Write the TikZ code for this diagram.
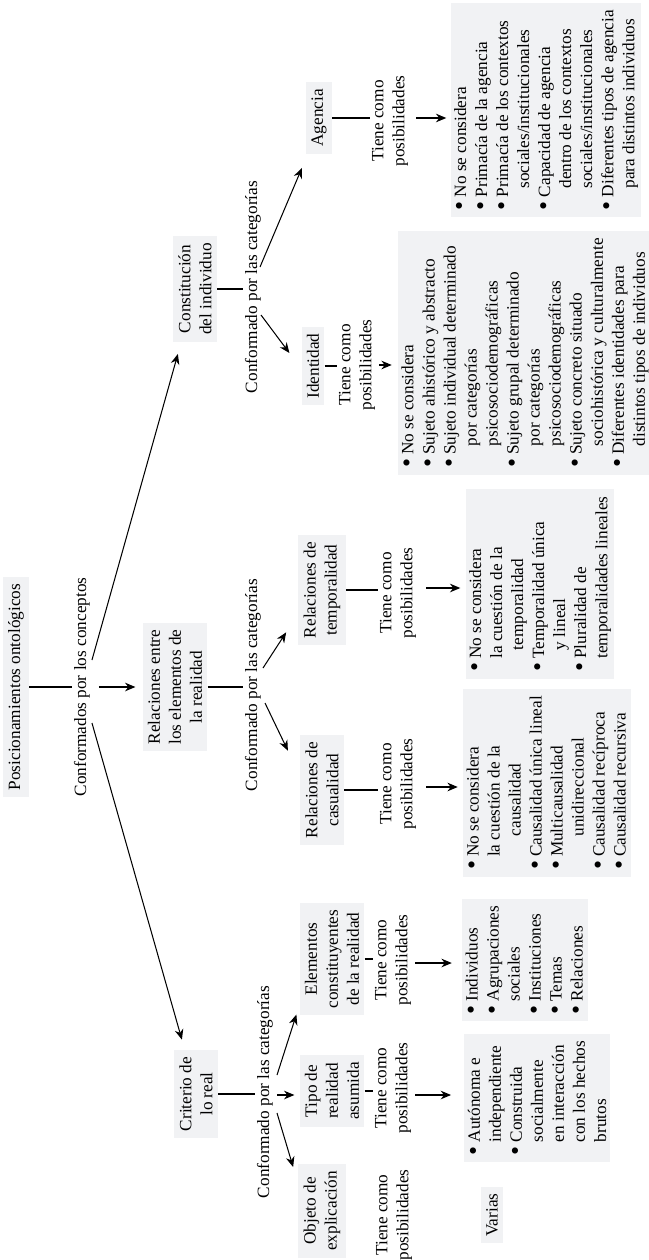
\documentclass[tikz,border=0pt]{standalone}
\usepackage{fontspec}
\setmainfont{Liberation Serif}
\usetikzlibrary{calc,arrows.meta}
\definecolor{boxgray}{RGB}{241,242,244}
\newcommand{\bi}{\makebox[0.75em][l]{\raisebox{-0.1em}{\fontsize{15}{12}\selectfont\textbullet}}}
\newcommand{\cn}{\hspace*{1.25em}}
\newcommand{\cw}{\hspace*{1.95em}}
\newcommand{\cs}{\hspace*{0.75em}}
\begin{document}
\begin{tikzpicture}[x=0.58pt,y=-0.58pt,
  every node/.style={rotate=90, font=\fontsize{10}{12.2}\selectfont},
  cbox/.style={fill=boxgray, align=center, inner xsep=4pt, inner ysep=3pt},
  lbox/.style={fill=boxgray, align=left, inner xsep=4pt, inner ysep=2pt},
  lbl/.style={align=center, inner sep=1pt},
  arr/.style={-{Stealth[length=6pt,width=5pt]}},
  ln/.style={line width=0.6pt}]
\useasboundingbox (0,0) rectangle (648,1260);

% top level
\node[cbox] (pos) at (16,687) {Posicionamientos ontológicos};
\node[lbl] (lblA) at (82,687) {Conformados por los conceptos};
\node[cbox] (rel) at (175,687) {Relaciones entre\\los elementos de\\la realidad};
\node[cbox] (cons) at (195,289) {Constitución\\del individuo};
\node[cbox] (crit) at (196,1094) {Criterio de\\lo real};

% relaciones
\node[lbl] (lblR) at (253,685) {Conformado por las categorías};
\node[cbox] (temp) at (322,590) {Relaciones de\\temporalidad};
\node[cbox] (caus) at (322,790) {Relaciones de\\casualidad};
\node[lbl] (tpT) at (398,593) {Tiene como\\posibilidades};
\node[lbl] (tpC) at (398,784) {Tiene como\\posibilidades};
\node[lbox] (listT) at (540,584) {\bi No se considera\\
\cs la cuestión de la\\
\cn temporalidad\\
\bi Temporalidad única\\
\cn y lineal\\
\bi Pluralidad de\\
\cs temporalidades lineales};
\node[lbox] (listC) at (547,783) {\bi No se considera\\
\cs la cuestión de la\\
\cw causalidad\\
\bi Causalidad única lineal\\
\bi Multicausalidad\\
\cw unidireccional\\
\bi Causalidad recíproca\\
\bi Causalidad recursiva};

% constitucion
\node[lbl] (lblK) at (253,287) {Conformado por las categorías};
\node[cbox] (agen) at (319,118) {Agencia};
\node[cbox] (iden) at (313,366) {Identidad};
\node[lbl] (tpAg) at (390,121) {Tiene como\\posibilidades};
\node[lbl] (tpId) at (357,365) {Tiene como\\posibilidades};
\node[lbox] (listAg) at (546,110) {\bi No se considera\\
\bi Primacía de la agencia\\
\bi Primacía de los contextos\\
\cn sociales/institucionales\\
\bi Capacidad de agencia\\
\cn dentro de los contextos\\
\cn sociales/institucionales\\
\bi Diferentes tipos de agencia\\
\cn para distintos individuos};
\node[lbox] (listId) at (525,353) {\bi No se considera\\
\bi Sujeto ahistórico y abstracto\\
\bi Sujeto individual determinado\\
\cn por categorías\\
\cn psicosociodemográficas\\
\bi Sujeto grupal determinado\\
\cn por categorías\\
\cn psicosociodemográficas\\
\bi Sujeto concreto situado\\
\cn sociohistórica y culturalmente\\
\bi Diferentes identidades para\\
\cn distintos tipos de individuos};

% criterio
\node[lbl] (lblCr) at (265,1092) {Conformado por las categorías};
\node[cbox] (elem) at (332,959) {Elementos\\constituyentes\\de la realidad};
\node[cbox] (tipo) at (332,1091) {Tipo de\\realidad\\asumida};
\node[cbox] (obj) at (322,1211) {Objeto de\\explicación};
\node[lbl] (tpE) at (393,960) {Tiene como\\posibilidades};
\node[lbl] (tpTi) at (393,1088) {Tiene como\\posibilidades};
\node[lbl] (tpO) at (394,1215) {Tiene como\\posibilidades};
\node[lbox] (listE) at (525,960) {\bi Individuos\\
\bi Agrupaciones\\
\cs sociales\\
\bi Instituciones\\
\bi Temas\\
\bi Relaciones};
\node[lbox] (listTi) at (537,1098) {\bi Autónoma e\\
\cs independiente\\
\bi Construida\\
\cs socialmente\\
\cs en interacción\\
\cs con los hechos\\
\cs brutos};
\node[cbox] (varias) at (492,1215) {Varias};

% connectors: top
\draw[ln] (pos.south) -- (pos.south -| lblA.north);
\draw[ln,arr] ($(lblA.south)+(7,0)$) -- ($(rel.north)+(-7,0)$);
\draw[ln,arr] ($(lblA.south)+(0,-27)$) -- ($(cons.north west)+(5,12)$);
\draw[ln,arr] ($(lblA.south)+(0,36)$) -- ($(crit.north east)+(8,-10)$);

% relaciones
\draw[ln] (rel.south) -- (rel.south -| lblR.north);
\draw[ln,arr] ($(lblR.south)+(0,-17)$) -- ($(temp.north west)+(-12,-13)$);
\draw[ln,arr] ($(lblR.south)+(2,18)$) -- ($(caus.north east)+(-12,16)$);
\draw[ln] (temp.south) -- (temp.south -| tpT.north);
\draw[ln,arr] ($(tpT.south)+(8,-5)$) -- ($(tpT.south -| listT.north)+(-5,-5)$);
\draw[ln] (caus.south) -- (caus.south -| tpC.north);
\draw[ln,arr] ($(tpC.south)+(8,3)$) -- ($(tpC.south -| listC.north)+(-5,3)$);

% constitucion
\draw[ln] (cons.south) -- (cons.south -| lblK.north);
\draw[ln,arr] ($(lblK.south)+(-3,-20)$) -- ($(agen.north west)+(-4,14)$);
\draw[ln,arr] ($(lblK.south)+(-2,28)$) -- ($(iden.north)+(-12,-13)$);
\draw[ln] (agen.south) -- (agen.south -| tpAg.north);
\draw[ln,arr] ($(tpAg.south)+(6,-3)$) -- ($(tpAg.south -| listAg.north)+(-4,-3)$);
\draw[ln] (iden.south) -- (iden.south -| tpId.north);
\draw[ln,arr] ($(tpId.south)+(2,0)$) -- ($(tpId.south -| listId.north)+(-6,0)$);

% criterio
\draw[ln] (crit.south) -- (crit.south -| lblCr.north);
\draw[ln,arr] ($(lblCr.south)+(2,3)$) -- ($(lblCr.south -| tipo.north)+(-5,3)$);
\draw[ln,arr] ($(lblCr.south)+(2,-17)$) -- ($(elem.north west)+(-3,-1)$);
\draw[ln,arr] ($(lblCr.south)+(2,21)$) -- ($(obj.north east)+(-5,3)$);
\draw[ln] (tipo.south) -- (tipo.south -| tpTi.north);
\draw[ln,arr] ($(tpTi.south)+(2,7)$) -- ($(tpTi.south -| listTi.north)+(-13,7)$);
\draw[ln] (elem.south) -- (elem.south -| tpE.north);
\draw[ln,arr] ($(tpE.south)+(2,3)$) -- ($(tpE.south -| listE.north)+(-10,3)$);
\end{tikzpicture}
\end{document}
